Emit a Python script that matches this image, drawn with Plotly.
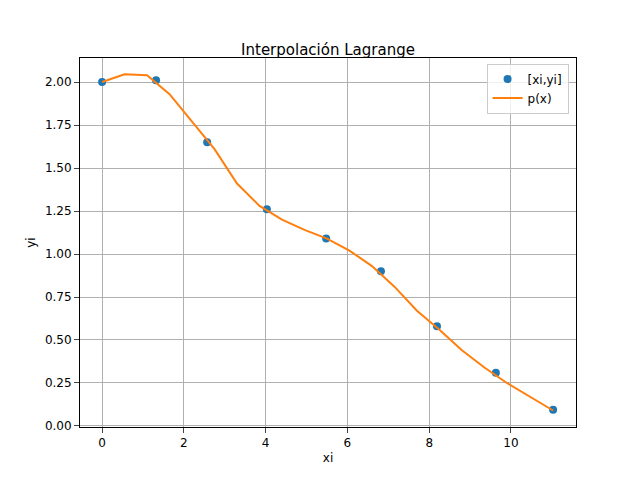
import plotly.graph_objects as go

xi = [0, 1.32, 2.57, 4.03, 5.48, 6.82, 8.19, 9.63, 11.03]
yi = [2.00, 2.01, 1.65, 1.26, 1.09, 0.90, 0.58, 0.31, 0.095]
px = [0, 0.55, 1.1, 1.65, 2.2, 2.75, 3.3, 3.85, 4.4, 4.95, 5.5, 6.05, 6.6, 7.15, 7.7, 8.25, 8.8, 9.35, 9.9, 10.45, 11.03]
py = [2.00, 2.045, 2.04, 1.93, 1.77, 1.61, 1.41, 1.28, 1.20, 1.14, 1.09, 1.02, 0.93, 0.81, 0.67, 0.56, 0.44, 0.34, 0.25, 0.17, 0.09]

fig = go.Figure()
fig.add_trace(go.Scatter(x=xi, y=yi, mode="markers", name="[xi,yi]",
                         marker=dict(color="#1f77b4", size=8)))
fig.add_trace(go.Scatter(x=px, y=py, mode="lines", name="p(x)",
                         line=dict(color="#ff7f0e", width=2)))
ax = dict(showline=True, linecolor="black", mirror=True, ticks="outside", automargin=False,
          gridcolor="#b0b0b0", zeroline=False, tickfont=dict(size=12, color="black"))
fig.update_layout(
    width=640, height=480, plot_bgcolor="white", paper_bgcolor="white",
    font=dict(family="DejaVu Sans", size=12, color="black"),
    margin=dict(l=72, r=72, t=50, b=61),
    title=dict(text="Interpolación Lagrange", x=0.5, xanchor="center", y=0.925, font=dict(size=15)),
    xaxis=dict(ax, range=[-0.54, 11.59], dtick=2, title=dict(text="xi", standoff=4, font=dict(size=12))),
    yaxis=dict(ax, range=[-0.006, 2.14], dtick=0.25, tickformat=".2f", title=dict(text="yi", standoff=6, font=dict(size=12))),
    legend=dict(x=0.985, y=0.985, xanchor="right", yanchor="top", bordercolor="#cccccc",
                borderwidth=1, bgcolor="rgba(255,255,255,0.8)", font=dict(size=12)),
)
fig.write_html("out.html")
